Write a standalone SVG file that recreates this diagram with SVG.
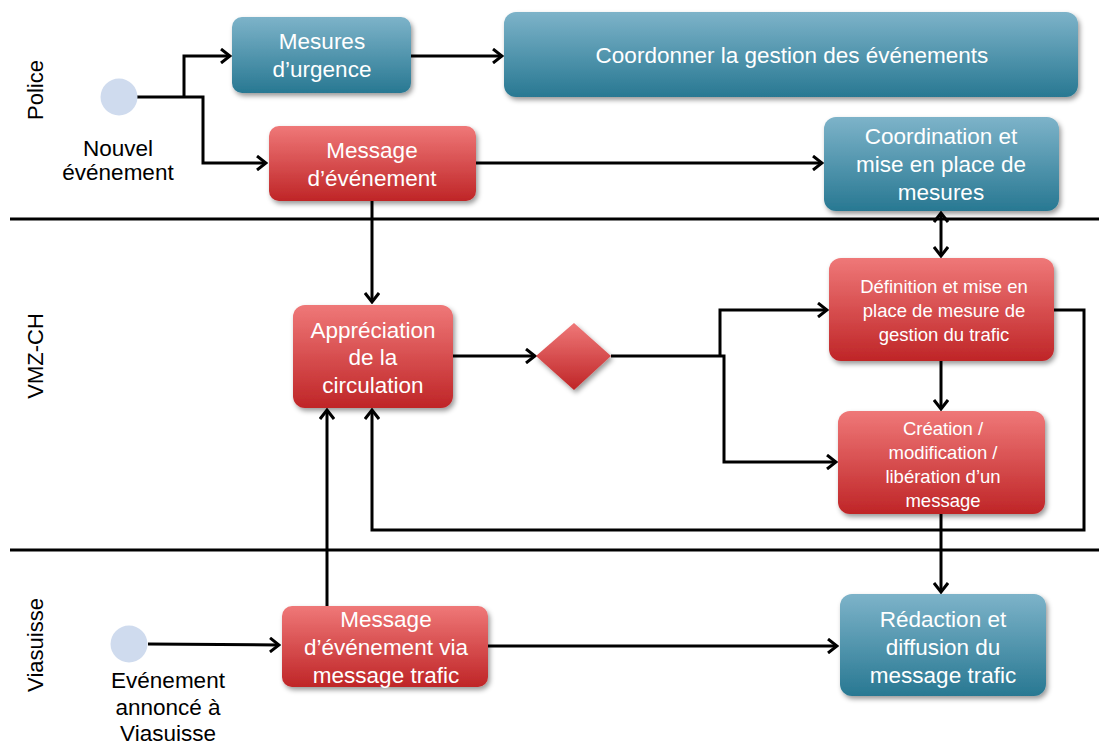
<svg xmlns="http://www.w3.org/2000/svg" width="1099" height="742" viewBox="0 0 1099 742">
<defs>
<linearGradient id="gTeal" x1="0" y1="0" x2="0" y2="1"><stop offset="0" stop-color="#7db3c9"/><stop offset="1" stop-color="#287892"/></linearGradient>
<linearGradient id="gRed" x1="0" y1="0" x2="0" y2="1"><stop offset="0" stop-color="#ef7878"/><stop offset="1" stop-color="#bf2527"/></linearGradient>
<filter id="sh" x="-10%" y="-10%" width="125%" height="135%"><feDropShadow dx="2" dy="3" stdDeviation="2.5" flood-color="#000" flood-opacity="0.4"/></filter>
<marker id="ar" viewBox="0 0 12 16" markerWidth="12" markerHeight="16" refX="10" refY="8" orient="auto-start-reverse" markerUnits="userSpaceOnUse"><path d="M1,1 L10,8 L1,15" fill="none" stroke="#000" stroke-width="3"/></marker>
</defs>
<style>
.teal{fill:url(#gTeal);filter:url(#sh)}
.red{fill:url(#gRed);filter:url(#sh)}
.t{font-family:"Liberation Sans",Arial,sans-serif;fill:#fff;text-anchor:middle;font-size:22.5px}
.ts{font-family:"Liberation Sans",Arial,sans-serif;fill:#fff;text-anchor:middle;font-size:18.5px}
.k{font-family:"Liberation Sans",Arial,sans-serif;fill:#000;text-anchor:middle;font-size:22.5px}
.lane{font-family:"Liberation Sans",Arial,sans-serif;fill:#000;text-anchor:middle;font-size:22px}
.ln{fill:none;stroke:#000;stroke-width:3}
.c{stroke:#000;stroke-width:3;fill:none}
.ca{stroke:#000;stroke-width:3;fill:none;marker-end:url(#ar)}
.start{fill:#cfdbee}
</style>
<rect width="1099" height="742" fill="#fff"/>
<g id="lanes">
<line class="ln" x1="10" y1="219" x2="1099" y2="219"/>
<line class="ln" x1="10" y1="550" x2="1099" y2="550"/>
<text class="lane" transform="translate(43,90) rotate(-90)">Police</text>
<text class="lane" transform="translate(43,356) rotate(-90)">VMZ-CH</text>
<text class="lane" transform="translate(43,645) rotate(-90)">Viasuisse</text>
</g>
<g id="connectors">
<polyline class="c" points="137,97 203,97 203,163 266,163" style="marker-end:url(#ar)"/>
<polyline class="ca" points="184,97 184,56 230,56"/>
<line class="ca" x1="411" y1="56" x2="502" y2="56"/>
<line class="ca" x1="476" y1="163" x2="822" y2="163"/>
<line class="ca" x1="372" y1="201" x2="372" y2="302"/>
<line class="ca" x1="453" y1="356" x2="535" y2="356"/>
<polyline class="c" points="611,356 724,356 724,462 836,462" style="marker-end:url(#ar)"/>
<polyline class="ca" points="720,356 720,310 827,310"/>
<line class="c" x1="941" y1="213" x2="941" y2="256" style="marker-start:url(#ar);marker-end:url(#ar)"/>
<line class="ca" x1="941" y1="361" x2="941" y2="409"/>
<polyline class="ca" points="1054,310 1084,310 1084,530 372,530 372,410"/>
<line class="ca" x1="941" y1="514" x2="941" y2="592"/>
<line class="ca" x1="148" y1="644" x2="279" y2="645"/>
<line class="ca" x1="327" y1="606" x2="327" y2="410"/>
<line class="ca" x1="488" y1="646" x2="837" y2="646"/>
</g>
<g id="start-police">
<circle class="start" cx="119" cy="97" r="18.5"/>
<text class="k" x="118" y="156">Nouvel</text>
<text class="k" x="118" y="180">événement</text>
</g>
<g id="mesures-urgence">
<rect class="teal" x="232" y="17" width="179" height="76" rx="10"/>
<text class="t" x="322" y="49">Mesures</text>
<text class="t" x="322" y="77">d’urgence</text>
</g>
<g id="coordonner">
<rect class="teal" x="504" y="12" width="574" height="85" rx="12"/>
<text class="t" x="792" y="63">Coordonner la gestion des événements</text>
</g>
<g id="message-evenement">
<rect class="red" x="269" y="126" width="207" height="75" rx="10"/>
<text class="t" x="372" y="158">Message</text>
<text class="t" x="372" y="186">d’événement</text>
</g>
<g id="coordination">
<rect class="teal" x="824" y="117" width="235" height="94" rx="12"/>
<text class="t" x="941" y="144">Coordination et</text>
<text class="t" x="941" y="172">mise en place de</text>
<text class="t" x="941" y="200">mesures</text>
</g>
<g id="appreciation">
<rect class="red" x="293" y="305" width="160" height="103" rx="12"/>
<text class="t" x="373" y="338">Appréciation</text>
<text class="t" x="373" y="365">de la</text>
<text class="t" x="373" y="393">circulation</text>
</g>
<g id="decision">
<polygon class="red" points="536,356 574,323 611,356 574,390"/>
</g>
<g id="definition">
<rect class="red" x="829" y="258" width="225" height="103" rx="12"/>
<text class="ts" x="944" y="293">Définition et mise en</text>
<text class="ts" x="944" y="317">place de mesure de</text>
<text class="ts" x="944" y="341">gestion du trafic</text>
</g>
<g id="creation">
<rect class="red" x="838" y="411" width="207" height="103" rx="12"/>
<text class="ts" x="943" y="435">Création /</text>
<text class="ts" x="943" y="459">modification /</text>
<text class="ts" x="943" y="483">libération d’un</text>
<text class="ts" x="943" y="507">message</text>
</g>
<g id="start-viasuisse">
<circle class="start" cx="129" cy="644" r="18.5"/>
<text class="k" x="168" y="688">Evénement</text>
<text class="k" x="168" y="715">annoncé à</text>
<text class="k" x="168" y="741">Viasuisse</text>
</g>
<g id="message-via">
<rect class="red" x="282" y="606" width="206" height="81" rx="10"/>
<text class="t" x="386" y="627">Message</text>
<text class="t" x="386" y="655">d’événement via</text>
<text class="t" x="386" y="683">message trafic</text>
</g>
<g id="redaction">
<rect class="teal" x="840" y="594" width="206" height="102" rx="12"/>
<text class="t" x="943" y="627">Rédaction et</text>
<text class="t" x="943" y="655">diffusion du</text>
<text class="t" x="943" y="683">message trafic</text>
</g>
</svg>
